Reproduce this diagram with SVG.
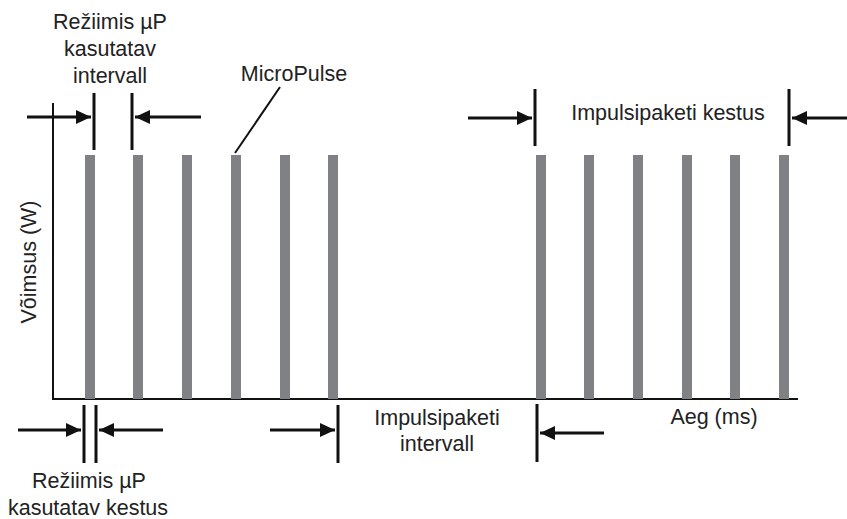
<svg xmlns="http://www.w3.org/2000/svg" width="847" height="519" viewBox="0 0 847 519">
<defs>
<marker id="ah" markerUnits="userSpaceOnUse" markerWidth="16" markerHeight="14" refX="15" refY="7" orient="auto">
<path d="M0,0 L15,7 L0,14 Z" fill="#111"/>
</marker>
</defs>
<style>
.t{font-family:"Liberation Sans",Arial,sans-serif;font-size:21.5px;fill:#222;}
.bar{fill:#808184;}
.dim{stroke:#111;stroke-width:3;fill:none;}
.arr{stroke:#111;stroke-width:3;fill:none;marker-end:url(#ah);}
.ax{stroke:#111;stroke-width:2;fill:none;}
</style>
<rect width="847" height="519" fill="#fff"/>
<g id="axes">
<path class="ax" d="M53,103 V399 H798"/>
<text class="t" text-anchor="middle" transform="translate(36,262) rotate(-90)">Võimsus (W)</text>
<text class="t" x="714" y="424" text-anchor="middle">Aeg (ms)</text>
</g>
<g id="pulses">
<rect class="bar" x="85" y="155" width="10" height="244"/>
<rect class="bar" x="133" y="155" width="10" height="244"/>
<rect class="bar" x="182" y="155" width="10" height="244"/>
<rect class="bar" x="231" y="155" width="10" height="244"/>
<rect class="bar" x="280" y="155" width="10" height="244"/>
<rect class="bar" x="328" y="155" width="10" height="244"/>
<rect class="bar" x="536" y="155" width="10" height="244"/>
<rect class="bar" x="584" y="155" width="10" height="244"/>
<rect class="bar" x="633" y="155" width="10" height="244"/>
<rect class="bar" x="682" y="155" width="10" height="244"/>
<rect class="bar" x="730" y="155" width="10" height="244"/>
<rect class="bar" x="779" y="155" width="10" height="244"/>
</g>
<g id="micropulse-label">
<text class="t" x="294" y="81" text-anchor="middle">MicroPulse</text>
</g>
<g id="interval-label">
<text class="t" x="110" y="29" text-anchor="middle">Režiimis µP</text>
<text class="t" x="110" y="56" text-anchor="middle">kasutatav</text>
<text class="t" x="110" y="83" text-anchor="middle">intervall</text>
</g>
<g id="packet-duration-label">
<text class="t" x="668" y="120" text-anchor="middle">Impulsipaketi kestus</text>
</g>
<g id="duty-label">
<text class="t" x="89" y="488" text-anchor="middle">Režiimis µP</text>
<text class="t" x="88" y="515" text-anchor="middle">kasutatav kestus</text>
</g>
<g id="packet-interval-label">
<text class="t" x="437" y="425" text-anchor="middle">Impulsipaketi</text>
<text class="t" x="437" y="451" text-anchor="middle">intervall</text>
</g>
<g id="connectors">
<line x1="280" y1="87" x2="235" y2="153" stroke="#111" stroke-width="2"/>
<line class="dim" x1="94" y1="93" x2="94" y2="150"/>
<line class="dim" x1="132" y1="93" x2="132" y2="150"/>
<line class="arr" x1="27" y1="117" x2="91" y2="117"/>
<line class="arr" x1="201" y1="117" x2="135" y2="117"/>
<line class="dim" x1="535" y1="89" x2="535" y2="146"/>
<line class="dim" x1="789" y1="89" x2="789" y2="146"/>
<line class="arr" x1="468" y1="118" x2="532" y2="118"/>
<line class="arr" x1="847" y1="118" x2="792" y2="118"/>
<line class="dim" x1="84" y1="405" x2="84" y2="463"/>
<line class="dim" x1="96" y1="405" x2="96" y2="463"/>
<line class="arr" x1="18" y1="430" x2="81" y2="430"/>
<line class="arr" x1="163" y1="430" x2="99" y2="430"/>
<line class="dim" x1="338" y1="405" x2="338" y2="463"/>
<line class="dim" x1="537" y1="404" x2="537" y2="462"/>
<line class="arr" x1="270" y1="430" x2="335" y2="430"/>
<line class="arr" x1="604" y1="433" x2="540" y2="433"/>
</g>
</svg>
